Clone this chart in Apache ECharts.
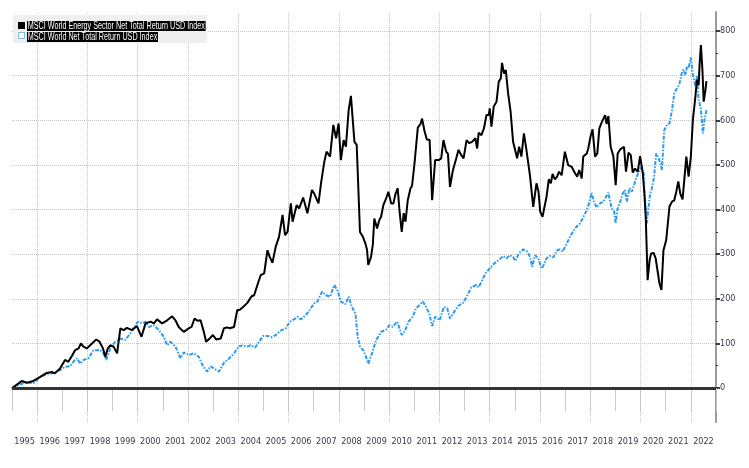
<!DOCTYPE html>
<html>
<head>
<meta charset="utf-8">
<script src="https://cdn.jsdelivr.net/npm/echarts@6/dist/echarts.min.js"></script>
<style>html,body{margin:0;padding:0;background:#fff}#c{width:749px;height:468px}</style>
</head>
<body>
<div id="c"></div>
<script>
const years = ['1995','1996','1997','1998','1999','2000','2001','2002','2003','2004','2005','2006','2007','2008','2009','2010','2011','2012','2013','2014','2015','2016','2017','2018','2019','2020','2021','2022'];
const gridYears = [1996,1998,2000,2002,2004,2006,2008,2010,2012,2014,2016,2018,2020,2022];
const yTicks = [0,100,200,300,400,500,600,700,800];
const energyName = 'MSCI World Energy Sector Net Total Return USD Index';
const worldName = 'MSCI World Net Total Return USD Index';
// [decimal year, % total return since start]
const energy = [
[1995.00,0],[1995.25,10],[1995.39,16],[1995.59,12],[1995.85,16],[1996.12,25],[1996.38,34],[1996.58,36],[1996.70,33],[1996.91,44],
[1997.11,63],[1997.24,59],[1997.38,72],[1997.51,85],[1997.65,89],[1997.74,100],[1997.84,93],[1997.98,89],[1998.18,100],[1998.35,109],
[1998.48,104],[1998.62,89],[1998.71,70],[1998.81,89],[1998.91,96],[1999.04,93],[1999.18,78],[1999.31,134],[1999.44,130],[1999.57,135],
[1999.77,130],[1999.97,139],[2000.15,115],[2000.31,145],[2000.51,149],[2000.64,145],[2000.77,154],[2000.97,145],[2001.17,152],[2001.37,161],
[2001.50,152],[2001.63,137],[2001.83,126],[2002.03,134],[2002.14,137],[2002.26,156],[2002.37,151],[2002.50,152],[2002.63,126],[2002.72,104],
[2002.86,111],[2002.99,119],[2003.12,109],[2003.30,111],[2003.43,134],[2003.56,136],[2003.66,134],[2003.83,137],[2003.96,175],[2004.05,175],
[2004.19,182],[2004.36,191],[2004.53,206],[2004.63,208],[2004.76,231],[2004.89,253],[2005.03,257],[2005.16,309],[2005.25,294],[2005.36,281],
[2005.49,317],[2005.62,339],[2005.76,388],[2005.86,343],[2005.96,350],[2006.09,414],[2006.16,373],[2006.32,410],[2006.42,403],[2006.58,427],
[2006.75,392],[2006.93,444],[2007.02,436],[2007.19,414],[2007.29,459],[2007.42,507],[2007.51,530],[2007.65,519],[2007.78,590],[2007.89,560],
[2007.99,593],[2008.08,511],[2008.19,556],[2008.28,541],[2008.39,623],[2008.48,655],[2008.55,655],[2008.62,552],[2008.71,545],[2008.84,350],
[2008.95,340],[2009.05,325],[2009.12,310],[2009.17,276],[2009.28,294],[2009.35,321],[2009.41,380],[2009.52,358],[2009.61,377],[2009.68,384],
[2009.77,410],[2009.88,425],[2009.97,440],[2010.08,414],[2010.17,414],[2010.25,435],[2010.34,448],[2010.41,399],[2010.50,350],[2010.58,392],
[2010.65,373],[2010.74,421],[2010.85,448],[2010.91,453],[2011.01,504],[2011.14,584],[2011.25,592],[2011.31,604],[2011.41,575],[2011.50,557],
[2011.61,556],[2011.71,421],[2011.83,511],[2011.97,511],[2012.07,515],[2012.16,556],[2012.27,530],[2012.34,525],[2012.42,451],[2012.54,489],
[2012.67,515],[2012.76,534],[2012.87,522],[2012.96,515],[2013.08,556],[2013.18,549],[2013.30,552],[2013.43,560],[2013.50,537],[2013.56,572],
[2013.67,567],[2013.77,582],[2013.87,612],[2013.96,612],[2014.00,627],[2014.07,586],[2014.16,631],[2014.27,642],[2014.36,687],[2014.44,694],
[2014.49,729],[2014.57,705],[2014.64,713],[2014.73,661],[2014.83,620],[2014.93,552],[2015.00,548],[2015.09,515],[2015.17,541],[2015.26,519],
[2015.36,571],[2015.46,534],[2015.60,477],[2015.73,406],[2015.86,459],[2015.94,440],[2016.01,395],[2016.10,384],[2016.17,380],[2016.26,429],
[2016.35,468],[2016.43,459],[2016.50,480],[2016.59,468],[2016.68,474],[2016.76,485],[2016.86,477],[2016.99,530],[2017.12,500],[2017.26,496],
[2017.36,485],[2017.48,474],[2017.56,489],[2017.66,470],[2017.72,519],[2017.86,526],[2017.92,537],[2018.01,564],[2018.09,580],[2018.19,519],
[2018.28,526],[2018.36,582],[2018.45,595],[2018.59,612],[2018.65,592],[2018.72,610],[2018.81,541],[2018.92,519],[2019.01,455],[2019.09,526],
[2019.19,535],[2019.34,541],[2019.42,485],[2019.52,528],[2019.61,522],[2019.69,483],[2019.78,492],[2019.89,485],[2019.98,520],[2020.09,481],
[2020.16,429],[2020.21,377],[2020.28,242],[2020.36,287],[2020.42,302],[2020.52,303],[2020.60,291],[2020.67,291],[2020.75,235],[2020.83,220],
[2020.91,309],[2021.02,332],[2021.09,336],[2021.15,407],[2021.25,418],[2021.34,421],[2021.42,440],[2021.50,463],[2021.58,436],[2021.67,423],
[2021.75,474],[2021.82,519],[2021.91,474],[2022.00,519],[2022.08,601],[2022.18,653],[2022.24,691],[2022.31,679],[2022.35,728],[2022.40,769],
[2022.46,713],[2022.51,642],[2022.58,668],[2022.62,688]
];
const world = [
[1995.00,0],[1995.30,8],[1995.59,13],[1995.85,11],[1996.12,25],[1996.38,31],[1996.65,34],[1996.91,40],[1997.11,48],[1997.31,49],
[1997.44,59],[1997.58,67],[1997.71,55],[1997.84,63],[1998.04,67],[1998.24,85],[1998.51,85],[1998.64,78],[1998.75,63],[1998.91,89],
[1999.11,104],[1999.31,111],[1999.50,108],[1999.70,122],[1999.86,137],[2000.01,149],[2000.17,145],[2000.31,149],[2000.44,137],[2000.64,141],
[2000.84,130],[2001.04,115],[2001.17,96],[2001.30,104],[2001.50,93],[2001.70,67],[2001.83,80],[2002.03,74],[2002.23,78],[2002.43,70],
[2002.57,52],[2002.76,37],[2002.90,49],[2003.03,44],[2003.23,37],[2003.43,57],[2003.63,66],[2003.83,78],[2004.03,94],[2004.19,96],
[2004.36,93],[2004.49,96],[2004.67,91],[2004.83,104],[2004.99,117],[2005.16,117],[2005.33,114],[2005.49,119],[2005.69,129],[2005.89,134],
[2006.05,149],[2006.22,154],[2006.36,160],[2006.49,154],[2006.69,164],[2006.85,176],[2007.02,190],[2007.15,194],[2007.33,216],[2007.49,208],
[2007.65,205],[2007.82,231],[2007.95,218],[2008.08,194],[2008.26,188],[2008.39,205],[2008.52,182],[2008.66,167],[2008.75,115],[2008.84,93],
[2008.98,84],[2009.08,70],[2009.17,55],[2009.30,75],[2009.41,95],[2009.48,107],[2009.68,126],[2009.88,131],[2010.01,141],[2010.14,137],
[2010.32,149],[2010.41,134],[2010.50,119],[2010.64,130],[2010.77,149],[2010.94,160],[2011.07,179],[2011.21,186],[2011.34,194],[2011.47,182],
[2011.61,164],[2011.71,139],[2011.83,160],[2012.01,152],[2012.18,182],[2012.31,179],[2012.42,156],[2012.54,167],[2012.74,184],[2012.94,191],
[2013.11,208],[2013.27,226],[2013.47,231],[2013.56,226],[2013.67,238],[2013.83,257],[2014.00,268],[2014.17,279],[2014.36,287],[2014.53,296],
[2014.67,291],[2014.80,298],[2014.93,294],[2015.02,285],[2015.16,302],[2015.33,311],[2015.49,306],[2015.60,294],[2015.69,272],[2015.80,298],
[2015.93,291],[2016.06,268],[2016.15,276],[2016.26,291],[2016.39,296],[2016.53,293],[2016.68,309],[2016.79,311],[2016.90,306],[2017.06,323],
[2017.19,339],[2017.39,358],[2017.59,369],[2017.72,383],[2017.86,399],[2017.96,416],[2018.05,438],[2018.15,418],[2018.25,405],[2018.39,414],
[2018.52,418],[2018.63,429],[2018.72,438],[2018.79,418],[2018.85,403],[2018.95,395],[2019.01,369],[2019.08,401],[2019.19,418],[2019.29,436],
[2019.38,444],[2019.45,418],[2019.56,448],[2019.65,440],[2019.74,455],[2019.85,474],[2019.96,489],[2020.05,496],[2020.12,481],[2020.18,422],
[2020.25,369],[2020.32,407],[2020.38,436],[2020.45,448],[2020.54,474],[2020.62,526],[2020.71,517],[2020.78,504],[2020.85,489],[2020.94,578],
[2021.05,590],[2021.15,593],[2021.25,623],[2021.34,662],[2021.45,672],[2021.55,683],[2021.65,709],[2021.71,714],[2021.78,702],[2021.85,722],
[2021.91,717],[2022.00,741],[2022.08,702],[2022.18,676],[2022.24,700],[2022.31,646],[2022.40,625],[2022.48,571],[2022.54,601],[2022.62,623]
];

const FONT = '"Liberation Sans Narrow","DejaVu Sans Condensed","Liberation Sans",sans-serif';
const LFONT = '10px "Liberation Sans", sans-serif';
const chart = echarts.init(document.getElementById('c'), null, {renderer:'canvas'});
chart.setOption({
  animation: false,
  backgroundColor: '#fff',
  textStyle: {fontFamily: FONT},
  graphic: [{
    type: 'group', left: 13, top: 15, z: 100,
    children: [
      {type: 'rect', z: 100, shape: {x: 0, y: 0, width: 194, height: 28}, style: {fill: '#efefef'}},
      {type: 'rect', z: 101, shape: {x: 5, y: 7, width: 7, height: 7}, style: {fill: '#000'}},
      {type: 'rect', z: 101, shape: {x: 5.5, y: 17.5, width: 6, height: 6}, style: {fill: '#fff', stroke: '#7fb8ea', lineWidth: 1}},
      {type: 'text', z: 101, x: 14, y: 6, scaleX: 0.72, style: {text: energyName, fill: '#fff', backgroundColor: '#000', font: LFONT, padding: [0, 1, 0, 1]}},
      {type: 'text', z: 101, x: 14, y: 17, scaleX: 0.72, style: {text: worldName, fill: '#fff', backgroundColor: '#000', font: LFONT, padding: [0, 1, 0, 1]}}
    ]
  }],
  grid: [
    {left: 12, right: 33, top: 12, bottom: 46, containLabel: false},
    {left: 12, right: 33, top: 31, bottom: 80, containLabel: false}
  ],
  xAxis: [
    {
      type: 'category', gridIndex: 0, data: years, boundaryGap: true,
      axisLine: {show: true, lineStyle: {color: '#aaa', width: 1}},
      axisTick: {show: true, length: 23, interval: 0, lineStyle: {color: '#c8c8c8'}},
      axisLabel: {interval: 0, margin: 15, fontSize: 9, color: '#3a3a48', fontFamily: FONT},
      splitLine: {show: false}
    },
    {type: 'value', gridIndex: 0, min: 1995, max: 2023, show: false},
    {type: 'value', gridIndex: 1, min: 1995, max: 2023, show: false}
  ],
  yAxis: [
    {
      type: 'value', gridIndex: 0, position: 'right', min: -76, max: 843,
      axisLine: {show: true, lineStyle: {color: '#9a9a9a', width: 2}},
      axisTick: {show: false}, axisLabel: {show: false}, splitLine: {show: false}
    },
    {
      type: 'value', gridIndex: 1, position: 'right', min: yTicks[0], max: yTicks[yTicks.length - 1], interval: 100,
      axisLine: {show: false},
      axisTick: {show: true, length: 4, lineStyle: {color: '#000', width: 1.5}},
      minorTick: {show: true, splitNumber: 2, length: 2, lineStyle: {color: '#333'}},
      axisLabel: {margin: 4, fontSize: 9, color: '#3a3a48', fontFamily: FONT},
      splitLine: {show: true, lineStyle: {type: 'dotted', color: '#c4c4c4'}}
    }
  ],
  series: [
    {
      name: 'grid', type: 'line', xAxisIndex: 1, yAxisIndex: 0, data: [[1995, 0]],
      symbol: 'none', lineStyle: {opacity: 0}, silent: true, z: 1,
      markLine: {
        silent: true, symbol: 'none', label: {show: false}, z: 1,
        lineStyle: {type: 'dotted', color: '#c4c4c4', width: 1},
        data: gridYears.map(function (y) { return {xAxis: y}; })
      }
    },
    {
      name: energyName, type: 'line', xAxisIndex: 1, yAxisIndex: 0, data: energy,
      showSymbol: false, symbol: 'none',
      lineStyle: {color: '#000', width: 2}, itemStyle: {color: '#000'}, z: 4,
      markLine: {
        silent: true, symbol: 'none', label: {show: false}, z: 5,
        lineStyle: {color: '#333', width: 3, type: 'solid'},
        data: [{yAxis: 0}]
      }
    },
    {
      name: worldName, type: 'line', xAxisIndex: 1, yAxisIndex: 0, data: world,
      showSymbol: false, symbol: 'none',
      lineStyle: {color: '#2b9af3', width: 2, type: [4, 1.5, 1.5, 1.5]}, itemStyle: {color: '#2b9af3'}, z: 3
    }
  ]
});
</script>
</body>
</html>
